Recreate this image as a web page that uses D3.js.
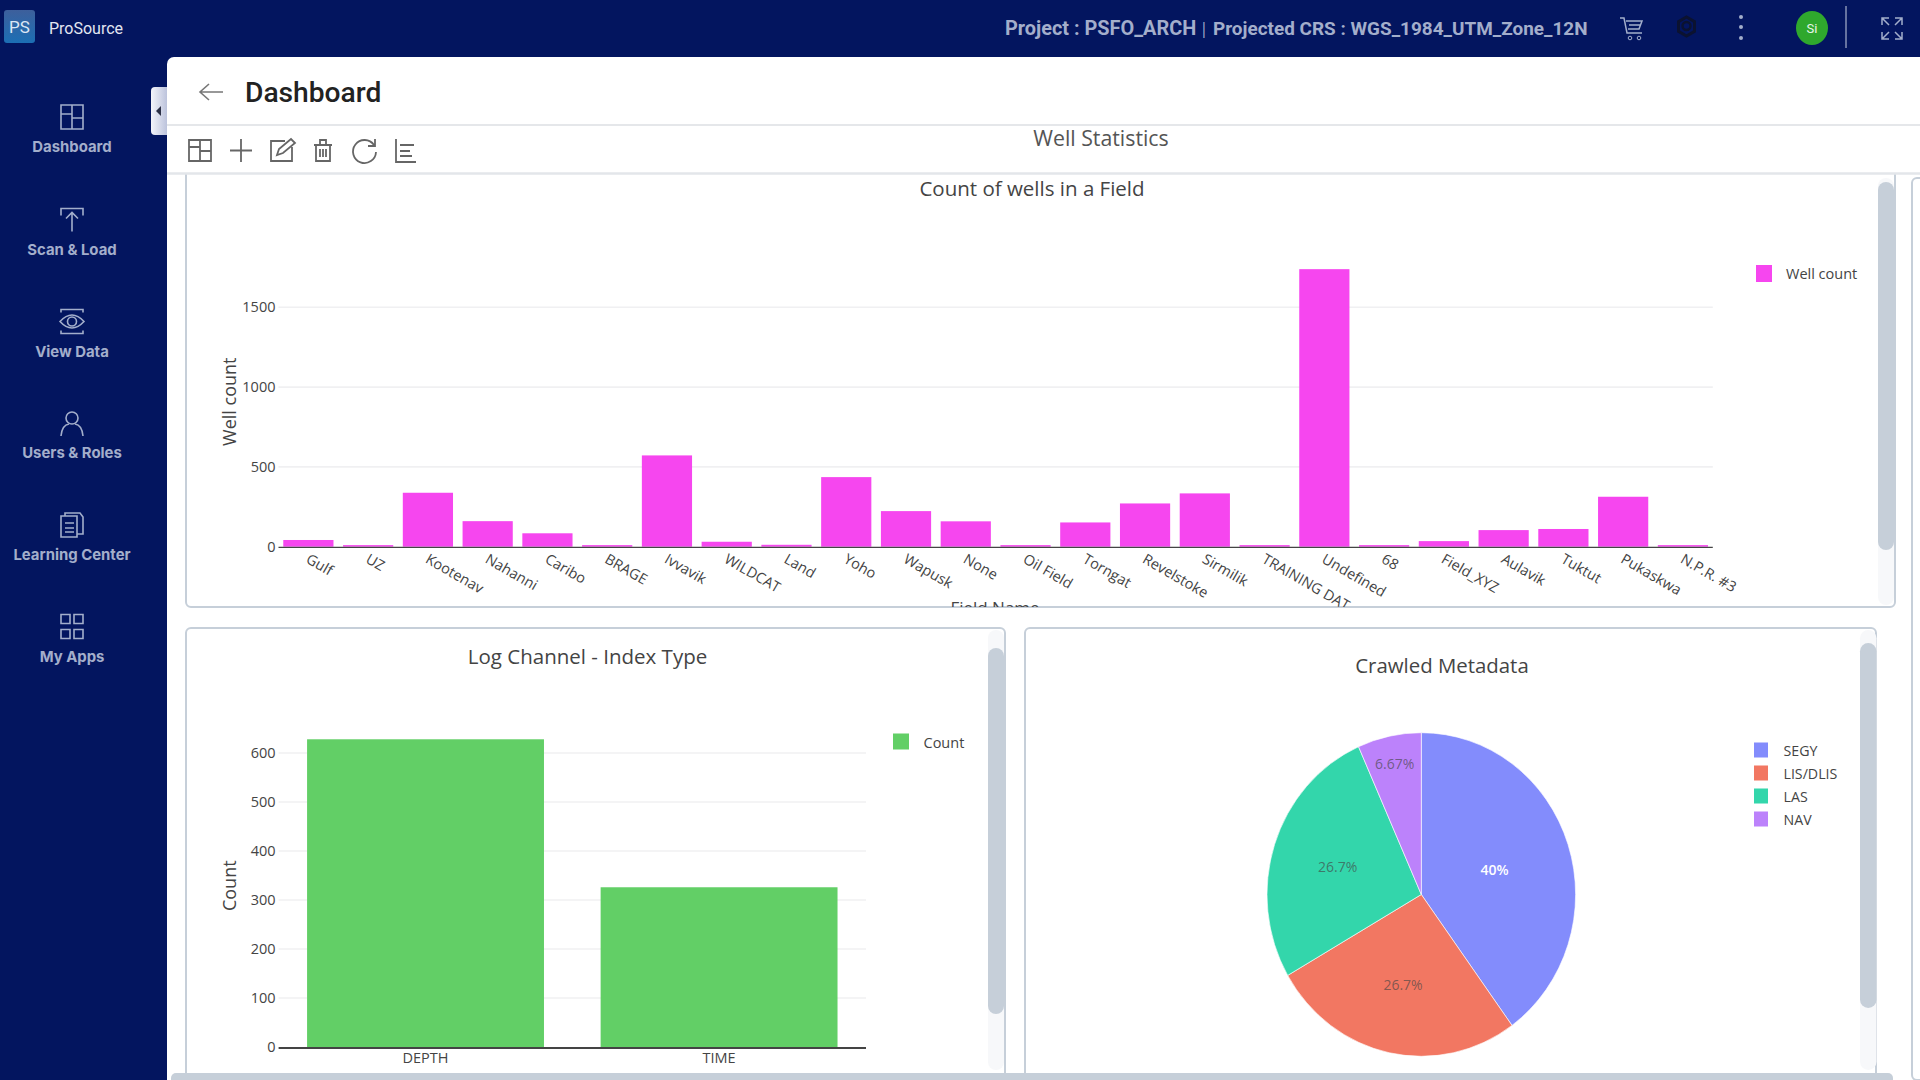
<!DOCTYPE html>
<html>
<head>
<meta charset="utf-8">
<script src="https://cdn.jsdelivr.net/npm/d3@7"></script>
<style>
  body { margin: 0; background: #fff; overflow: hidden; }
  text { font-family: "Open Sans", sans-serif; }
</style>
</head>
<body>
<div id="viz"></div>
<script>
const width = 1920, height = 1080;

// chart values
const fieldNames = ["Gulf", "UZ", "Kootenav", "Nahanni", "Caribo", "BRAGE", "Ivvavik", "WILDCAT", "Land", "Yoho", "Wapusk", "None", "Oil Field", "Torngat", "Revelstoke", "Sirmilik", "TRAINING DAT...", "Undefined", "68", "Field_XYZ", "Aulavik", "Tuktut", "Pukaskwa", "N.P.R. #3"];
const wellCounts = [42, 10, 338, 160, 84, 10, 572, 31, 12, 436, 223, 159, 10, 152, 271, 334, 10, 1739, 10, 35, 104, 111, 313, 10];
const wellTicks = [0, 500, 1000, 1500];

const indexTypes = ["DEPTH", "TIME"];
const indexCounts = [628, 326];
const indexTicks = [0, 100, 200, 300, 400, 500, 600];

const metaTypes = ["SEGY", "LIS/DLIS", "LAS", "NAV"];
const metaCounts = [6, 4, 4, 1];
const metaColors = ["#838cfc", "#f27762", "#33d6ab", "#bc82fb"];

const navItems = ["Dashboard", "Scan & Load", "View Data", "Users & Roles", "Learning Center", "My Apps"];

const navy = "#03155f", navText = "#a3aecb", panelLine = "#c6cfd9", ink = "#444";

const svg = d3.select("#viz").append("svg")
  .attr("width", width)
  .attr("height", height)
  .style("display", "block");

const defs = svg.append("defs");
const logoGrad = defs.append("linearGradient").attr("id", "logoGrad").attr("x1", 0).attr("y1", 0).attr("x2", 0).attr("y2", 1);
logoGrad.append("stop").attr("offset", 0).attr("stop-color", "#3d5f9c");
logoGrad.append("stop").attr("offset", 1).attr("stop-color", "#1c6fb4");
const tabGrad = defs.append("linearGradient").attr("id", "tabGrad");
tabGrad.append("stop").attr("offset", 0).attr("stop-color", "#f4f5fa");
tabGrad.append("stop").attr("offset", 1).attr("stop-color", "#bcc3dc");

function addClip(id, x, y, w, h) {
  defs.append("clipPath").attr("id", id).append("rect")
    .attr("x", x).attr("y", y).attr("width", w).attr("height", h);
}
addClip("clipTop", 186, 175, 1709, 432);
addClip("clipLeft", 186, 628, 819, 445);
addClip("clipRight", 1025, 628, 852, 445);

// page frame
svg.append("rect").attr("width", width).attr("height", height).attr("fill", navy);
svg.append("path")
  .attr("d", `M167,${height}V64a7,7 0 0 1 7,-7H${width}V${height}Z`)
  .attr("fill", "#fff");

function line(g, x1, y1, x2, y2, color, w) {
  return g.append("line").attr("x1", x1).attr("y1", y1).attr("x2", x2).attr("y2", y2)
    .attr("stroke", color).attr("stroke-width", w);
}
function icon(parent, d, color, w) {
  return parent.append("path").attr("d", d).attr("fill", "none")
    .attr("stroke", color).attr("stroke-width", w || 1.6);
}
function label(parent, x, y, str, size, color, anchor) {
  return parent.append("text").attr("x", x).attr("y", y)
    .attr("dominant-baseline", "central")
    .attr("text-anchor", anchor || "middle")
    .attr("font-size", size).attr("fill", color || ink).text(str);
}

// top bar
const topBar = svg.append("g");
topBar.append("rect").attr("x", 4).attr("y", 10).attr("width", 31).attr("height", 33).attr("rx", 3).attr("fill", "url(#logoGrad)");
label(topBar, 19.5, 27, "PS", 17, "#dbe6f5").style("font-family", "Roboto");
label(topBar, 49, 28, "ProSource", 16, "#e2e6f1", "start").style("font-family", "Roboto");
label(topBar, 1005, 28, "Project : PSFO_ARCH", 19.9, navText, "start").style("font-family", "Roboto").attr("font-weight", 700);
label(topBar, 1204, 28, "|", 16, navText);
label(topBar, 1213, 28, "Projected CRS : WGS_1984_UTM_Zone_12N", 18.95, navText, "start").style("font-family", "Roboto").attr("font-weight", 700);
icon(topBar, "M1620,18h4l3,15h15M1626,21h16l-3,8h-11M1629,25h11", "#a3aecb", 1.5);
topBar.selectAll("circle.wheel").data([1630, 1639]).enter().append("circle")
  .attr("cx", d => d).attr("cy", 38).attr("r", 1.8).attr("fill", "none").attr("stroke", "#a3aecb");
icon(topBar, "M1686.5,17l8,4.6v9.8l-8,4.6l-8,-4.6v-9.8Z", "#0b1230", 3);
topBar.append("circle").attr("cx", 1686.5).attr("cy", 26).attr("r", 4).attr("fill", "none").attr("stroke", "#0b1230").attr("stroke-width", 2.4);
topBar.selectAll("circle.dot").data([17, 27, 38]).enter().append("circle")
  .attr("cx", 1741).attr("cy", d => d).attr("r", 2).attr("fill", "#a3aecb");
topBar.append("ellipse").attr("cx", 1812).attr("cy", 28).attr("rx", 16).attr("ry", 17).attr("fill", "#2fa82d");
label(topBar, 1812, 28, "Si", 13, "#e8f5e8").style("font-family", "Roboto");
line(topBar, 1846, 6, 1846, 48, "#c9d0e2", 1);
icon(topBar, "M1882,25v-7h7M1902,25v-7h-7M1882,32v7h7M1902,32v7h-7M1882,18l7,7M1902,18l-7,7M1882,39l7,-7M1902,39l-7,-7", "#a3aecb", 1.5);

// left nav, icons are just sketched in place
const navG = svg.append("g");
const navIconY = [117, 219.5, 321.5, 424, 525, 626.5];
const navTextY = [147, 249.5, 351.5, 452.5, 555, 657];
navItems.forEach((name, i) => {
  label(navG, 72, navTextY[i], name, 14.9, navText).style("font-family", "Inter").attr("font-weight", 700);
  navG.append("g").attr("transform", `translate(72,${navIconY[i]})`).call(g => {
    if (i === 0) icon(g, "M-11,-12H11V12H-11ZM0,-12V12M0,1H11M-11,-3H0", navText);
    if (i === 1) icon(g, "M-11,-4V-11H11V-4M0,12V-7M-6,-1L0,-7L6,-1", navText);
    if (i === 2) {
      icon(g, "M-11,-9V-12H11V-9M-11,9V12H11V9M-12,0Q0,-13 12,0Q0,13 -12,0Z", navText);
      g.append("circle").attr("r", 4.5).attr("fill", "none").attr("stroke", navText).attr("stroke-width", 1.6);
    }
    if (i === 3) {
      g.append("circle").attr("cy", -6).attr("r", 6).attr("fill", "none").attr("stroke", navText).attr("stroke-width", 1.6);
      icon(g, "M-11,12Q-10,1 -3,0M11,12Q10,1 3,0", navText);
    }
    if (i === 4) icon(g, "M-11,-9H5V12H-11ZM-7,-2H2M-7,3H2M-7,7H2M-7,-9V-12H8L11,-8V9H5", navText);
    if (i === 5) icon(g, "M-11,-12H-2V-3H-11ZM2,-12H11V-3H2ZM-11,3H-2V12H-11ZM2,3H11V12H2Z", navText);
  });
});

// collapse tab
svg.append("path").attr("d", "M167,87H155a4,4 0 0 0 -4,4V131a4,4 0 0 0 4,4H167Z").attr("fill", "url(#tabGrad)");
svg.append("path").attr("d", "M161,106V116L156,111Z").attr("fill", "#2a2f45");

// card outlines and scrollbars
function card(x, y, w, h) {
  svg.append("rect").attr("x", x).attr("y", y).attr("width", w).attr("height", h).attr("rx", 5)
    .attr("fill", "#fff").attr("stroke", panelLine).attr("stroke-width", 2);
}
function scrollBar(x, y, w, h, trackY, trackH) {
  svg.append("rect").attr("x", x).attr("y", trackY).attr("width", w).attr("height", trackH).attr("rx", w / 2)
    .attr("fill", "#f7f8fa");
  svg.append("rect").attr("x", x).attr("y", y).attr("width", w).attr("height", h).attr("rx", w / 2)
    .attr("fill", panelLine);
}
card(186, 165, 1709, 442);
card(186, 628, 819, 470);
card(1025, 628, 851, 470);
scrollBar(1878, 182, 16, 368, 178, 427);
scrollBar(988, 648, 16, 366, 630, 440);
scrollBar(1860, 643, 16.5, 365, 630, 440);
svg.append("rect").attr("x", 1912).attr("y", 178).attr("width", 20).attr("height", 902).attr("rx", 5)
  .attr("fill", "#fff").attr("stroke", panelLine).attr("stroke-width", 2);
svg.append("rect").attr("x", 171).attr("y", 1073).attr("width", 1722).attr("height", 12).attr("rx", 5).attr("fill", panelLine);

// dashboard header and toolbar sit over the top of the first card
const head = svg.append("g");
head.append("rect").attr("x", 167).attr("y", 125).attr("width", width - 167).attr("height", 48).attr("fill", "#fff");
icon(head, "M223,92H200M209,84L200,92L209,100", "#777", 1.6);
label(head, 245, 92, "Dashboard", 28.2, "#222", "start").style("font-family", "Roboto").attr("font-weight", 500);
line(head, 167, 125, width, 125, "#dcdfe3", 1.5);
line(head, 167, 173.5, width, 173.5, "#e3e6ea", 2.5);
label(head, 1101, 137.5, "Well Statistics", 21.3, "#555");
const toolColor = "#666";
icon(head, "M189,140H211V161H189ZM200,140V161M200,151H211M189,147H200", toolColor, 1.8);
icon(head, "M241,139V162M230,150.5H252", toolColor, 1.8);
icon(head, "M292,147V161H271V141H285M277,155L279,149L291,139L295,143L283,153Z", toolColor, 1.8);
icon(head, "M314,145H332M316,145V161H330V145M320,145V140H326V145M320,149V157M323,149V157M326,149V157", toolColor, 1.8);
icon(head, "M374,145A11.5,11.5 0 1 0 376,152M375,139V146H368", toolColor, 1.8);
icon(head, "M396,139V162H416M400,145H414M400,151H410M400,156H412", toolColor, 1.8);

// bar chart shared by the two bar cards
function drawBars({ g, names, values, ticks, xRange, yRange, padInner, padOuter, color, axisWidth }) {
  const x = d3.scaleBand().domain(names).range(xRange)
    .paddingInner(padInner).paddingOuter(padOuter);
  const y = d3.scaleLinear().domain([0, d3.max(ticks)]).range(yRange);

  g.selectAll("line.grid").data(ticks.filter(d => d > 0)).enter().append("line")
    .attr("class", "grid")
    .attr("x1", xRange[0]).attr("x2", xRange[1])
    .attr("y1", d => y(d)).attr("y2", d => y(d))
    .attr("stroke", "#f0f0f2").attr("stroke-width", 1.6);

  g.selectAll("rect.bar").data(names).enter().append("rect")
    .attr("class", "bar")
    .attr("x", d => x(d))
    .attr("y", (d, i) => y(values[i]))
    .attr("width", x.bandwidth())
    .attr("height", (d, i) => y(0) - y(values[i]))
    .attr("fill", color);

  const yAxis = g.append("g")
    .attr("transform", `translate(${xRange[0]},0)`)
    .call(d3.axisLeft(y).tickValues(ticks).tickSize(0).tickPadding(3).tickFormat(d3.format("d")));
  yAxis.select(".domain").remove();
  yAxis.selectAll("text").attr("font-size", 14.5).attr("fill", ink).style("font-family", "Open Sans");

  // zero line hangs just below the bars so the tiny ones stay visible
  line(g, xRange[0], y(0) + axisWidth / 2, xRange[1], y(0) + axisWidth / 2, "#444", axisWidth);
  return x;
}

// count of wells in a field
const topG = svg.append("g").attr("clip-path", "url(#clipTop)");
label(topG, 1032, 187.5, "Count of wells in a Field", 20.5, ink);
const xWells = drawBars({
  g: topG, names: fieldNames, values: wellCounts, ticks: wellTicks,
  xRange: [278.5, 1712.8], yRange: [546.7, 307.3], padInner: 0.16, padOuter: 0.08, color: "#f646ef", axisWidth: 1.4
});
topG.selectAll("text.field").data(fieldNames).enter().append("text")
  .attr("class", "field")
  .attr("transform", d => `translate(${xWells(d) + xWells.bandwidth() / 2 - 3.5},562) rotate(30)`)
  .attr("font-size", 14.5).attr("fill", ink).text(d => d);
label(topG, 229, 401.7, "Well count", 18, ink).attr("transform", "rotate(-90 229 401.7)");
label(topG, 995, 607.5, "Field Name", 17, ink);
topG.append("rect").attr("x", 1756).attr("y", 265).attr("width", 16).attr("height", 17).attr("fill", "#f646ef");
label(topG, 1786, 273.5, "Well count", 14.5, ink, "start");

// log channel index type
const leftG = svg.append("g").attr("clip-path", "url(#clipLeft)");
label(leftG, 587.5, 656, "Log Channel - Index Type", 20.5, ink);
const xIndex = drawBars({
  g: leftG, names: indexTypes, values: indexCounts, ticks: indexTicks,
  xRange: [278.6, 866], yRange: [1047, 753], padInner: 0.193, padOuter: 0.097, color: "#62cf66", axisWidth: 2
});
leftG.selectAll("text.index").data(indexTypes).enter().append("text")
  .attr("class", "index")
  .attr("x", d => xIndex(d) + xIndex.bandwidth() / 2)
  .attr("y", 1057.5).attr("dominant-baseline", "central").attr("text-anchor", "middle")
  .attr("font-size", 14.5).attr("fill", ink).text(d => d);
label(leftG, 228.8, 885.7, "Count", 18, ink).attr("transform", "rotate(-90 228.8 885.7)");
leftG.append("rect").attr("x", 893).attr("y", 733.5).attr("width", 16).attr("height", 16).attr("fill", "#62cf66");
label(leftG, 923.5, 742, "Count", 14.5, ink, "start");

// crawled metadata pie, the reference is slightly taller than wide
const rightG = svg.append("g").attr("clip-path", "url(#clipRight)");
label(rightG, 1442, 665, "Crawled Metadata", 20.4, ink);
const rx = 154.3, ry = 161.8, cx = 1421.3, cy = 894.5;
const total = d3.sum(metaCounts);
const pie = d3.pie().sort(null).value(d => d)(metaCounts);
const arc = d3.arc().innerRadius(0).outerRadius(rx);
const labelReach = d => {
  const share = d.value / total;
  return share < 0.1 ? 0.83 : share < 0.35 ? 0.57 : 0.5;
};
rightG.append("g").attr("transform", `translate(${cx},${cy}) scale(1,${ry / rx})`)
  .selectAll("path").data(pie).enter().append("path")
  .attr("d", arc)
  .attr("fill", (d, i) => metaColors[i])
  .attr("stroke", "#fff").attr("stroke-width", 0.6);
rightG.selectAll("text.pct").data(pie).enter().append("text")
  .attr("class", "pct")
  .attr("x", d => cx + Math.sin((d.startAngle + d.endAngle) / 2) * rx * labelReach(d))
  .attr("y", d => cy - Math.cos((d.startAngle + d.endAngle) / 2) * ry * labelReach(d))
  .attr("dominant-baseline", "central").attr("text-anchor", "middle")
  .attr("font-size", 14)
  .attr("font-weight", (d, i) => i === 0 ? 600 : 400)
  .attr("fill", (d, i) => i === 0 ? "#fff" : "#444")
  .attr("fill-opacity", (d, i) => i === 0 ? 1 : 0.65)
  .text(d => d3.format(".3~r")(d.value / total * 100) + "%");

const legendRows = d3.scalePoint().domain(metaTypes).range([750, 819]);
rightG.selectAll("rect.key").data(metaTypes).enter().append("rect")
  .attr("class", "key")
  .attr("x", 1754).attr("y", d => legendRows(d) - 7.5)
  .attr("width", 14).attr("height", 15)
  .attr("fill", (d, i) => metaColors[i]);
rightG.selectAll("text.key").data(metaTypes).enter().append("text")
  .attr("class", "key")
  .attr("x", 1783.5).attr("y", d => legendRows(d))
  .attr("dominant-baseline", "central")
  .attr("font-size", 14.2).attr("fill", ink).text(d => d);
</script>
</body>
</html>
